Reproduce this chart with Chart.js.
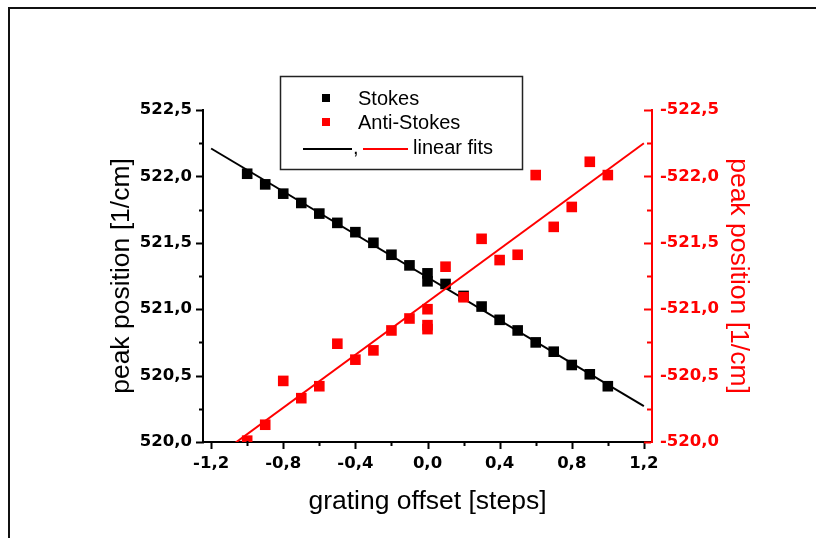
<!DOCTYPE html>
<html>
<head>
<meta charset="utf-8">
<script src="https://cdn.jsdelivr.net/npm/chart.js"></script>
<style>
  body { margin: 0; background: #fff; }
  #caja { width: 816px; height: 538px; }
</style>
</head>
<body>
<div id="caja"><canvas id="myChart" width="816" height="538"></canvas></div>
<script>
// datos
const offsetsStokes = [-1.0,-0.9,-0.8,-0.7,-0.6,-0.5,-0.4,-0.3,-0.2,-0.1,0.0,0.0,0.1,0.2,0.3,0.4,0.5,0.6,0.7,0.8,0.9,1.0];
const stokes = [522.02,521.94,521.87,521.80,521.72,521.65,521.58,521.50,521.41,521.33,521.27,521.21,521.19,521.10,521.02,520.92,520.84,520.75,520.68,520.58,520.51,520.42];

const offsetsAnti = [-1.0,-0.9,-0.8,-0.7,-0.6,-0.5,-0.4,-0.3,-0.2,-0.1,0.0,0.0,0.0,0.1,0.2,0.3,0.4,0.5,0.6,0.7,0.8,0.9,1.0];
const antiStokes = [-520.01,-520.13,-520.46,-520.33,-520.42,-520.74,-520.62,-520.69,-520.84,-520.93,-521.00,-520.88,-520.85,-521.32,-521.09,-521.53,-521.37,-521.41,-522.01,-521.62,-521.77,-522.11,-522.01];

// extremos de los ajustes lineales
const fitX = [-1.2, 1.2];
const stokesFit = [522.21, 520.27];
const antiFit = [-519.86, -522.25];

// ticks
const xMajor = [-1.2,-0.8,-0.4,0.0,0.4,0.8,1.2];
const xMinor = [-1.0,-0.6,-0.2,0.2,0.6,1.0];
const yMajor = [520.0,520.5,521.0,521.5,522.0,522.5];
const yMinor = [520.25,520.75,521.25,521.75,522.25];
const y2Major = [-520.0,-520.5,-521.0,-521.5,-522.0,-522.5];
const y2Minor = [-520.25,-520.75,-521.25,-521.75,-522.25];

const ROJO = '#ff0000';
const fuenteTicks = { family: 'DejaVu Sans', weight: 'bold', size: 16.5 };
const fuenteTitulo = { family: 'Liberation Sans', size: 26.5 };

function aPuntos(xs, ys) {
  return xs.map((x, i) => ({ x: x, y: ys[i] }));
}

function formato(v) {
  return Number(v).toFixed(1).replace('.', ',');
}

function rayas(ctx, escala, valores, largo, dir, color) {
  const area = escala.chart.chartArea;
  ctx.strokeStyle = color;
  ctx.lineWidth = 2;
  ctx.beginPath();
  valores.forEach(v => {
    const p = Math.round(escala.getPixelForValue(v)) + 0.5;
    if (dir === 'abajo') {
      ctx.moveTo(p, area.bottom - 1);
      ctx.lineTo(p, area.bottom + largo);
    } else if (dir === 'izq') {
      ctx.moveTo(area.left + 1, p);
      ctx.lineTo(area.left - largo, p);
    } else {
      ctx.moveTo(area.right - 1, p);
      ctx.lineTo(area.right - largo, p);
    }
  });
  ctx.stroke();
}

// marcas de ejes, marco y leyenda
const extras = {
  id: 'extras',
  afterDraw(chart) {
    const ctx = chart.ctx;
    const s = chart.scales;
    ctx.save();
    rayas(ctx, s.x, xMajor, 7, 'abajo', '#000');
    rayas(ctx, s.x, xMinor, 4, 'abajo', '#000');
    rayas(ctx, s.y, yMajor, 7, 'izq', '#000');
    rayas(ctx, s.y, yMinor, 4, 'izq', '#000');
    rayas(ctx, s.y2, y2Major, 8, 'der', ROJO);
    rayas(ctx, s.y2, y2Minor, 5, 'der', ROJO);

    // marco
    ctx.strokeStyle = '#111';
    ctx.lineWidth = 2;
    ctx.beginPath();
    ctx.moveTo(816, 8);
    ctx.lineTo(9, 8);
    ctx.lineTo(9, 538);
    ctx.stroke();

    // leyenda
    ctx.strokeStyle = '#222';
    ctx.lineWidth = 1.5;
    ctx.strokeRect(280.5, 76.5, 242, 93);
    ctx.fillStyle = '#000';
    ctx.fillRect(322, 94, 8, 8);
    ctx.fillStyle = ROJO;
    ctx.fillRect(322, 118, 8, 8);
    ctx.lineWidth = 2;
    ctx.strokeStyle = '#000';
    ctx.beginPath(); ctx.moveTo(303, 149); ctx.lineTo(352, 149); ctx.stroke();
    ctx.strokeStyle = ROJO;
    ctx.beginPath(); ctx.moveTo(363, 149); ctx.lineTo(408, 149); ctx.stroke();
    ctx.fillStyle = '#000';
    ctx.font = '20px "Liberation Sans"';
    ctx.textBaseline = 'middle';
    ctx.fillText('Stokes', 358, 99);
    ctx.fillText('Anti-Stokes', 358, 123);
    ctx.fillText(',', 353, 148);
    ctx.fillText('linear fits', 413, 148);
    ctx.restore();
  }
};

const data = {
  datasets: [
    {
      label: 'Anti-Stokes',
      data: aPuntos(offsetsAnti, antiStokes),
      yAxisID: 'y2',
      pointStyle: 'rect',
      pointRadius: 7.5,
      backgroundColor: ROJO,
      borderWidth: 0,
      order: 1
    },
    {
      label: 'ajuste anti',
      data: aPuntos(fitX, antiFit),
      yAxisID: 'y2',
      showLine: true,
      pointRadius: 0,
      borderColor: ROJO,
      borderWidth: 2,
      order: 2
    },
    {
      label: 'Stokes',
      data: aPuntos(offsetsStokes, stokes),
      yAxisID: 'y',
      pointStyle: 'rect',
      pointRadius: 7.5,
      backgroundColor: '#000',
      borderWidth: 0,
      order: 3
    },
    {
      label: 'ajuste stokes',
      data: aPuntos(fitX, stokesFit),
      yAxisID: 'y',
      showLine: true,
      pointRadius: 0,
      borderColor: '#000',
      borderWidth: 2,
      order: 4
    }
  ]
};

const config = {
  type: 'scatter',
  data,
  options: {
    responsive: false,
    animation: false,
    events: [],
    layout: { padding: { top: 110, left: 0, right: 0, bottom: 0 } },
    plugins: { legend: { display: false }, tooltip: { enabled: false } },
    scales: {
      x: {
        type: 'linear',
        min: -1.245,
        max: 1.245,
        afterBuildTicks: s => { s.ticks = xMajor.map(v => ({ value: v })); },
        afterFit: s => { s.height = 96; },
        ticks: { callback: formato, color: '#000', font: fuenteTicks, padding: 12, maxRotation: 0, autoSkip: false },
        grid: { display: false, drawTicks: false },
        border: { display: true, color: '#000', width: 2 },
        title: { display: true, text: 'grating offset [steps]', color: '#000', font: fuenteTitulo, padding: { top: 0, bottom: 20 } }
      },
      y: {
        type: 'linear',
        position: 'left',
        min: 520,
        max: 522.5,
        afterBuildTicks: s => { s.ticks = yMajor.map(v => ({ value: v })); },
        afterFit: s => { s.width = 203; },
        ticks: { callback: formato, color: '#000', font: fuenteTicks, padding: 11 },
        grid: { display: false, drawTicks: false },
        border: { display: true, color: '#000', width: 2 },
        title: { display: true, text: 'peak position [1/cm]', color: '#000', font: fuenteTitulo, padding: { top: 106, bottom: 0 } }
      },
      y2: {
        type: 'linear',
        position: 'right',
        reverse: true,
        min: -522.5,
        max: -520,
        afterBuildTicks: s => { s.ticks = y2Major.map(v => ({ value: v })); },
        afterFit: s => { s.width = 164; },
        ticks: { callback: formato, color: ROJO, font: fuenteTicks, padding: 8 },
        grid: { display: false, drawTicks: false },
        border: { display: true, color: ROJO, width: 2 },
        title: { display: true, text: 'peak position [1/cm]', color: ROJO, font: fuenteTitulo, padding: { top: 62, bottom: 0 } }
      }
    }
  },
  plugins: [extras]
};

const chartDOM = document.getElementById('myChart');
var myChart = new Chart(chartDOM, config);
</script>
</body>
</html>
